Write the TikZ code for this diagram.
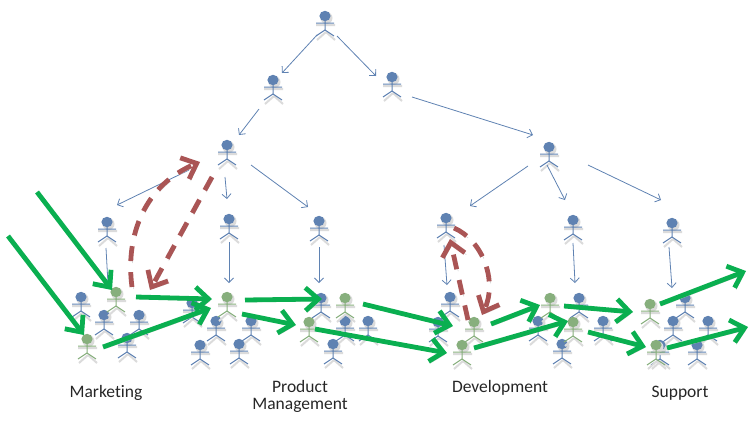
\documentclass[tikz,border=0pt]{standalone}
\usepackage{fontspec}
\setmainfont[Ligatures=NoCommon]{Carlito}
\usepackage{tikz}
\usetikzlibrary{arrows.meta,positioning}

\definecolor{actorblue}{RGB}{95,130,178}
\definecolor{actorgreen}{RGB}{135,175,125}
\definecolor{flowgreen}{RGB}{10,175,80}
\definecolor{jumpred}{RGB}{170,85,85}

\tikzset{
    actor/.pic={
        % soft shadow first, then the figure
        \fill[black!14] (1.5,2) circle (6);
        \draw[black!14, line width=2pt] (-9,9) -- (10,9) (1,16) -- (-8,24) (1,16) -- (10,24);
        \fill[#1] (0,0) ellipse (5.6 and 5.2);
        \draw[#1, line width=1pt] (0,4) -- (0,14) (-9,7) -- (9,7) (-9,20) -- (0,14) -- (9,20);
    },
    actorbox/.style={inner sep=0pt, minimum width=20pt, minimum height=30pt},
    link/.style={-{Straight Barb[length=4.5pt,width=9pt]}, draw=actorblue, line width=0.8pt},
    flowtip/.style={-{Straight Barb[length=13pt,width=23pt,line width=4.8pt]}},
    flow/.style={flowtip, draw=flowgreen, line width=4.8pt,
        preaction={flowtip, draw=black!22, transform canvas={xshift=1.5pt,yshift=-2pt}}},
    jumptip/.style={-{Straight Barb[length=13pt,width=23pt,line width=4.8pt]}, dash pattern=on 15pt off 11pt},
    jump/.style={jumptip, draw=jumpred, line width=4.8pt,
        preaction={jumptip, draw=black!22, transform canvas={xshift=1.5pt,yshift=-2pt}}},
    team/.style={font=\fontsize{17.5}{17}\selectfont, align=center, inner sep=0pt, text=black!85},
}

\begin{document}
\begin{tikzpicture}[x=1pt, y=-1pt]
    \useasboundingbox (0,0) rectangle (755,424);

    % the two kinds of people, in drawing order
    \foreach \nm/\px/\py in {
        ceo/325/16, vpa/273/80, vpb/392/77, mgra/227/145, mgrb/549/147,
        mka/107/222, pma/229/219, pmb/319/221, dva/446/218, dvb/573/220, spa/672/223,
        ta/81/297, tb/104/315, tc/139/315, td/127/338,
        ua/192/303, ub/216/321, uc/251/321, ud/200/345, ue/239/344,
        va/321/298, vb/345/321, vc/368/321, vd/333/344,
        wa/450/297, wb/438/322,
        xa/579/298, xb/538/321, xc/603/321, xd/562/344,
        ya/685/298, yb/673/321, yc/708/321, yd/697/345, ye/660/345
    }{
        \node[actorbox] (\nm) at (\px,\py) {};
        \pic at (\nm) {actor=actorblue};
    }
    \foreach \nm/\px/\py in {
        ga/116/292, gb/87/339, gc/227/297, gd/345/298, ge/309/322, gf/474/322, gg/462/345,
        gh/550/298, gi/573/322, gj/650/304, gk/656/345
    }{
        \node[actorbox] (\nm) at (\px,\py) {};
        \pic at (\nm) {actor=actorgreen};
    }

    % free ends of the long arrows
    \coordinate (ina) at (37,192);
    \coordinate (inb) at (8,236);
    \coordinate (outa) at (746,271);
    \coordinate (outb) at (748,327);

    % reporting lines
    \draw[link] ([shift={(-8,19)}]ceo.center) -- ([shift={(9,-7)}]vpa.center);
    \draw[link] ([shift={(12,20)}]ceo.center) -- ([shift={(-16,-1)}]vpb.center);
    \draw[link] ([shift={(-14,29)}]vpa.center) -- ([shift={(12,-10)}]mgra.center);
    \draw[link] ([shift={(20,20)}]vpb.center) -- ([shift={(-16,-12)}]mgrb.center);
    \draw[link] ([shift={(-38,25)}]mgra.center) -- ([shift={(10,-17)}]mka.center);
    \draw[link] ([shift={(-2,32)}]mgra.center) -- ([shift={(-2,-20)}]pma.center);
    \draw[link] ([shift={(24,20)}]mgra.center) -- ([shift={(-11,-14)}]pmb.center);
    \draw[link] ([shift={(-21,19)}]mgrb.center) -- ([shift={(24,-12)}]dva.center);
    \draw[link] ([shift={(-2,18)}]mgrb.center) -- ([shift={(-8,-20)}]dvb.center);
    \draw[link] ([shift={(39,18)}]mgrb.center) -- ([shift={(-11,-23)}]spa.center);
    \draw[link] ([shift={(-1,26)}]mka.center) -- ([shift={(-8,-8)}]ga.center);
    \draw[link] ([shift={(0,23)}]pma.center) -- ([shift={(2,-14)}]gc.center);
    \draw[link] ([shift={(0,26)}]pmb.center) -- ([shift={(-2,-15)}]va.center);
    \draw[link] ([shift={(-2,27)}]dva.center) -- ([shift={(-3,-12)}]wa.center);
    \draw[link] ([shift={(0,23)}]dvb.center) -- ([shift={(-4,-15)}]xa.center);
    \draw[link] ([shift={(-3,24)}]spa.center) -- ([shift={(-13,-10)}]ya.center);

    % jumps between departments
    \draw[jump] ([shift={(-15,32)}]mgra.center) -- ([shift={(34,-2)}]ga.center);
    \draw[jump] ([shift={(16,-5)}]ga.center) .. controls (125,235) and (145,185) .. ([shift={(-27,17)}]mgra.center);
    \draw[jump] ([shift={(-6,-2)}]gf.center) -- ([shift={(4,21)}]dva.center);
    \draw[jump] ([shift={(8,10)}]dva.center) .. controls (482,240) and (498,280) .. ([shift={(8,-7)}]gf.center);

    % work moving along the value stream
    \draw[flow] (ina) -- ([shift={(-4,-2)}]ga.center);
    \draw[flow] (inb) -- ([shift={(-3,-4)}]gb.center);
    \draw[flow] ([shift={(20,5)}]ga.center) -- ([shift={(-15,2)}]gc.center);
    \draw[flow] ([shift={(16,8)}]gb.center) -- ([shift={(-16,11)}]gc.center);
    \draw[flow] ([shift={(18,3)}]gc.center) -- ([shift={(1,1)}]va.center);
    \draw[flow] ([shift={(15,17)}]gc.center) -- ([shift={(-13,3)}]ge.center);
    \draw[flow] ([shift={(18,6)}]gd.center) -- ([shift={(-21,4)}]gf.center);
    \draw[flow] ([shift={(6,7)}]ge.center) -- ([shift={(-15,8)}]gg.center);
    \draw[flow] ([shift={(17,2)}]gf.center) -- ([shift={(-10,7)}]gh.center);
    \draw[flow] ([shift={(12,3)}]gg.center) -- ([shift={(-5,-1)}]gi.center);
    \draw[flow] ([shift={(14,8)}]gh.center) -- ([shift={(-17,8)}]gj.center);
    \draw[flow] ([shift={(15,10)}]gi.center) -- ([shift={(-10,2)}]gk.center);
    \draw[flow] ([shift={(10,0)}]gj.center) -- (outa);
    \draw[flow] ([shift={(11,3)}]gk.center) -- (outb);

    % team names
    \node[team] (marketing) at (106,393) {Marketing};
    \node[team] (product) at (300,396) {Product\\Management};
    \node[team] (development) at (500,388) {Development};
    \node[team] (support) at (680,393) {Support};
\end{tikzpicture}
\end{document}
